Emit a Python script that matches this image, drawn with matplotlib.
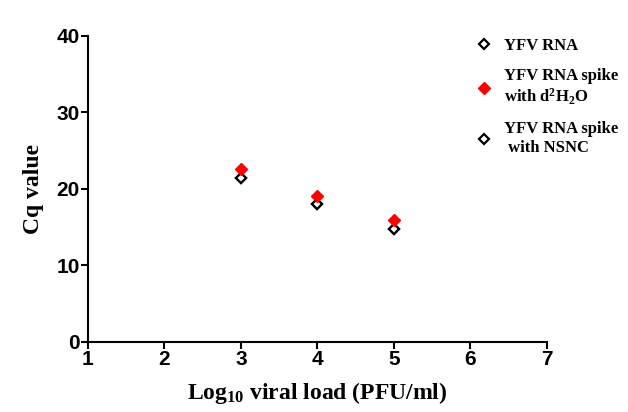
import matplotlib
matplotlib.use("Agg")
import matplotlib.pyplot as plt

x_vals = [3, 4, 5]
yfv_rna = [21.4, 18.0, 14.7]
spike_d2h2o = [22.6, 19.1, 15.9]
spike_nsnc = [21.4, 18.0, 14.7]
labels = ["YFV RNA", "YFV RNA spike\nwith d$^2$H$_2$O", "YFV RNA spike\n with NSNC"]
xticks = [1, 2, 3, 4, 5, 6, 7]
yticks = [0, 10, 20, 30, 40]

plt.rcParams['mathtext.default'] = 'regular'
fig = plt.figure(figsize=(6.28, 4.12), dpi=100)
ax = fig.add_axes([0.140, 0.170, 0.731, 0.743])

h3, = ax.plot(x_vals, spike_nsnc, linestyle='none', marker='D', markersize=5,
              markerfacecolor='white', markeredgecolor='black', markeredgewidth=1.6, label=labels[2])
h1, = ax.plot(x_vals, yfv_rna, linestyle='none', marker='D', markersize=5,
              markerfacecolor='white', markeredgecolor='black', markeredgewidth=1.6, label=labels[0])
h2, = ax.plot(x_vals, spike_d2h2o, linestyle='none', marker='D', markersize=6.5,
              markerfacecolor='red', markeredgecolor='red', label=labels[1])

ax.set_xlim(1, 7)
ax.set_ylim(0, 40)
ax.set_xticks(xticks)
ax.set_yticks(yticks)
for s in ['top', 'right']:
    ax.spines[s].set_visible(False)
for s in ['left', 'bottom']:
    ax.spines[s].set_linewidth(1.5)
ax.tick_params(direction='out', length=5, width=1.5, labelsize=15, pad=1)
for t in ax.get_xticklabels() + ax.get_yticklabels():
    t.set_fontfamily('Liberation Sans')
    t.set_fontweight('bold')

ax.set_xlabel("Log$_{10}$ viral load (PFU/ml)", fontfamily='Liberation Serif',
              fontweight='bold', fontsize=17, labelpad=8)
ax.set_ylabel("Cq value", fontfamily='Liberation Serif', fontweight='bold', fontsize=17, labelpad=9)

leg = fig.legend([h1, h2, h3], labels, loc='upper left', bbox_to_anchor=(0.731, 0.945),
                 frameon=False, prop={'family': 'Liberation Serif', 'weight': 'bold', 'size': 12},
                 handletextpad=0.6, labelspacing=0.85, handlelength=1.2)

fig.savefig("out.png", dpi=100)
